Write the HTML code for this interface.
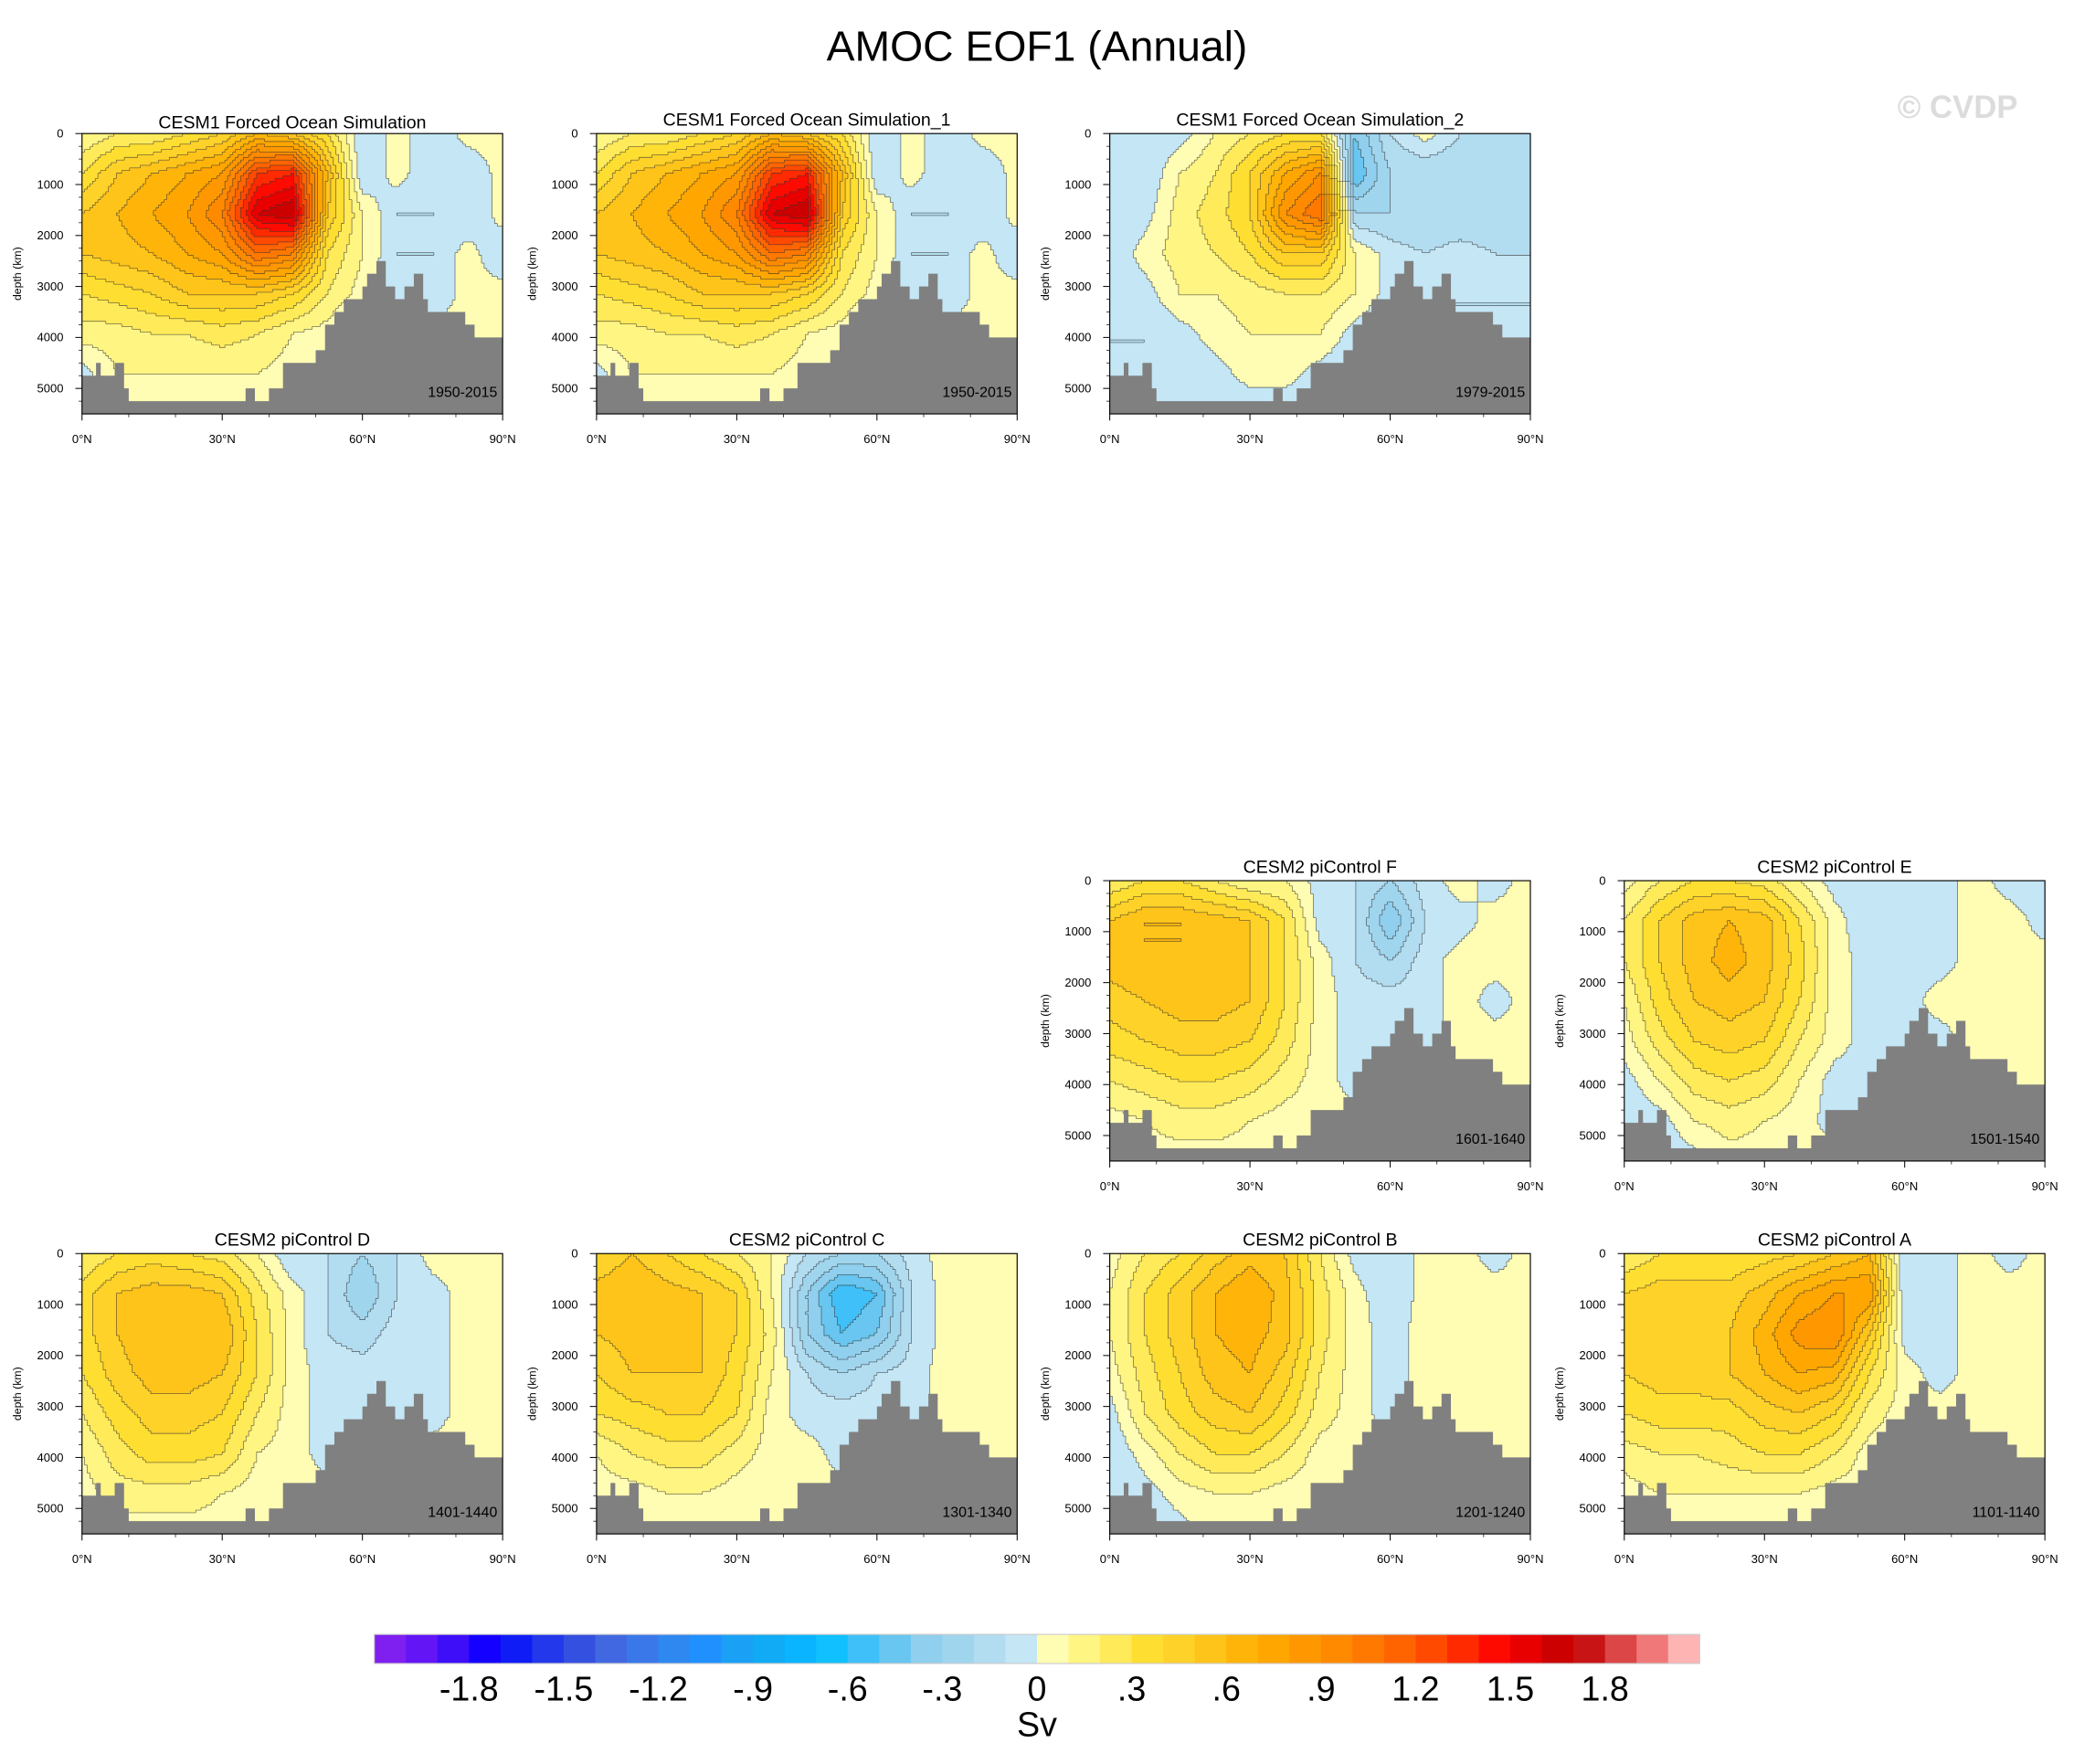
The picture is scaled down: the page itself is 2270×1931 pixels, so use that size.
<!DOCTYPE html>
<html><head><meta charset="utf-8"><style>
html,body{margin:0;padding:0;background:#fff}
svg{display:block}
text{font-family:"Liberation Sans",sans-serif}
</style></head><body>
<svg id="fig" xmlns="http://www.w3.org/2000/svg" width="2270" height="1931" viewBox="0 0 1568 1334" preserveAspectRatio="none">
<text x="784" y="46" font-size="32" text-anchor="middle">AMOC EOF1 (Annual)</text>
<text x="1480" y="89" font-size="24" font-weight="bold" fill="#dcdcdc" text-anchor="middle">© CVDP</text>
<g id="panels"></g>
<g id="cbar"></g>
</svg>
<script>
// ---- data ----
const colorLevels = ["#7f1ff0","#6315f5","#3d0ef7","#1400ff","#0f1cf5","#2238ea","#3450e0","#4168e0","#3a78ea","#2e88f0","#2090ff","#1aa0f5","#10aaf5","#0ab4ff","#10c0ff","#40c0f8","#68c6f0","#90cfed","#a0d5ee","#b2dcf0","#c4e6f5",
"#fffcb4","#fff582","#ffea5a","#ffde32","#ffd22a","#ffc41a","#ffb40a","#ffa600","#ff9800","#ff8a00","#ff7800","#ff6400","#ff4a00","#ff2a00","#ff0a00","#e80000","#cc0000","#c81414","#dc4646","#f07878","#ffb4b4"];
const cbarLabels = ["-1.8","-1.5","-1.2","-.9","-.6","-.3","0",".3",".6",".9","1.2","1.5","1.8"];
const latGrid = [0,7.5,15,22.5,30,37.5,45,52.5,60,67.5,75,82.5,90];
const depthGrid = [0,785,1570,2355,3140,3925,4710,5500];
const yTicks = [0,1000,2000,3000,4000,5000];
const xTicks = [0,30,60,90];
const bathyLat = [0,1,3,4,7,9,10,27,30,35,37,40,43,50,52,54,56,60,61,63,65,67,69,71,73,74,82,84,90];
const bathyDepth = [4750,4750,4500,4750,4500,5000,5250,5250,5250,5000,5250,5000,4500,4250,3750,3500,3250,3000,2750,2500,3000,3250,3000,2750,3250,3500,3750,4000,4000];
const cesm1 = [
[0.1,0.2,0.2,0.3,0.4,0.6,0.5,0.3,-0.1,0.05,-0.1,0.05,0.05],
[0.3,0.5,0.6,0.7,0.8,1.3,1.4,0.6,-0.1,0.05,-0.1,-0.1,0.05],
[0.5,0.6,0.7,0.8,1.0,1.6,1.7,0.5,0.1,-0.1,-0.1,-0.1,0.05],
[0.5,0.55,0.6,0.7,0.8,1.1,1.0,0.3,0.1,-0.1,-0.1,0.05,-0.1],
[0.3,0.35,0.4,0.5,0.5,0.5,0.4,0.2,0.05,-0.1,-0.1,0.05,0.05],
[0.15,0.15,0.2,0.2,0.25,0.2,0.1,0.05,-0.1,-0.1,0.05,0.05,0.05],
[-0.05,0.1,0.1,0.1,0.1,0.1,0.05,0.05,-0.1,-0.1,0.05,0.05,0.05],
[-0.05,0.05,0.05,0.05,0.05,0.05,0.05,0.05,0.05,0.05,0.05,0.05,0.05]];
const cesm1b = [
[-0.1,-0.1,-0.05,0.1,0.2,0.3,0.3,-0.4,-0.1,0.05,-0.1,-0.1,-0.1],
[-0.1,-0.1,0.1,0.2,0.4,0.7,0.9,-0.5,-0.2,-0.2,-0.2,-0.2,-0.2],
[-0.1,-0.05,0.15,0.25,0.4,0.9,1.1,-0.2,-0.2,-0.2,-0.2,-0.2,-0.2],
[-0.1,0.05,0.15,0.2,0.3,0.5,0.5,0.1,-0.05,-0.1,-0.05,-0.1,-0.1],
[-0.1,-0.05,0.1,0.1,0.15,0.2,0.2,0.1,-0.05,-0.1,-0.1,-0.1,-0.1],
[-0.1,-0.1,-0.05,0.05,0.1,0.1,0.1,-0.05,-0.1,-0.1,-0.1,-0.1,-0.1],
[-0.1,-0.1,-0.1,-0.05,0.05,0.05,-0.05,-0.1,-0.1,-0.1,-0.1,-0.1,-0.1],
[-0.1,-0.1,-0.1,-0.1,-0.1,-0.1,-0.1,-0.1,-0.1,-0.1,-0.1,-0.1,-0.1]];
const pcF = [
[0.2,0.3,0.3,0.2,0.1,0.1,-0.05,-0.1,-0.2,-0.05,0.05,-0.05,0.05],
[0.5,0.6,0.6,0.55,0.5,0.3,-0.05,-0.1,-0.4,-0.1,-0.05,0.05,0.05],
[0.55,0.6,0.6,0.6,0.5,0.3,0.05,-0.1,-0.2,-0.05,0.05,0.05,0.05],
[0.45,0.5,0.55,0.55,0.5,0.3,0.05,-0.05,-0.05,-0.05,0.05,-0.05,0.05],
[0.35,0.4,0.45,0.45,0.4,0.25,0.05,-0.05,-0.05,-0.05,0.05,0.05,0.05],
[0.2,0.25,0.3,0.3,0.25,0.15,0.05,-0.05,-0.05,0.05,0.05,0.05,0.05],
[0.05,0.1,0.15,0.15,0.1,0.05,0.05,0.05,0.05,0.05,0.05,0.05,0.05],
[-0.05,0.05,0.05,0.05,0.05,0.05,0.05,0.05,0.05,0.05,0.05,0.05,0.05]];
const pcE = [
[0.05,0.2,0.3,0.3,0.25,0.1,-0.05,-0.1,-0.1,-0.05,0.05,-0.05,-0.05],
[0.2,0.4,0.55,0.6,0.55,0.3,0.05,-0.1,-0.1,-0.05,0.05,0.05,-0.05],
[0.2,0.4,0.55,0.65,0.55,0.35,0.05,-0.05,-0.05,-0.05,0.05,0.05,0.05],
[0.1,0.35,0.5,0.55,0.5,0.3,0.05,-0.05,-0.05,0.05,0.05,0.05,0.05],
[0.05,0.25,0.4,0.45,0.4,0.2,0.05,-0.05,-0.05,-0.05,0.05,0.05,0.05],
[-0.05,0.1,0.25,0.3,0.25,0.1,-0.05,-0.05,-0.05,-0.05,0.05,0.05,0.05],
[-0.1,-0.05,0.1,0.15,0.1,0.05,-0.05,-0.05,-0.05,0.05,0.05,0.05,0.05],
[-0.1,-0.1,-0.05,0.05,0.05,0.05,0.05,0.05,0.05,0.05,0.05,0.05,0.05]];
const pcD = [
[0.2,0.3,0.35,0.3,0.25,0.1,-0.1,-0.1,-0.2,-0.1,0.05,0.05,0.05],
[0.35,0.5,0.55,0.55,0.5,0.25,0.05,-0.1,-0.3,-0.1,-0.05,0.05,0.05],
[0.35,0.5,0.6,0.55,0.6,0.3,0.05,-0.1,-0.15,-0.05,-0.05,0.05,0.05],
[0.3,0.45,0.55,0.55,0.5,0.3,0.05,-0.05,-0.05,-0.05,-0.05,0.05,0.05],
[0.2,0.35,0.45,0.45,0.4,0.2,0.05,-0.05,-0.05,-0.05,-0.05,0.05,0.05],
[0.1,0.25,0.35,0.35,0.3,0.1,0.05,-0.05,-0.05,-0.05,0.05,0.05,0.05],
[0.05,0.15,0.15,0.15,0.1,0.05,0.05,0.05,0.05,0.05,0.05,0.05,0.05],
[0.05,0.05,0.05,0.05,0.05,0.05,0.05,0.05,0.05,0.05,0.05,0.05,0.05]];
const pcC = [
[0.4,0.5,0.4,0.3,0.2,0.1,-0.1,-0.2,-0.2,-0.05,0.05,0.05,0.05],
[0.55,0.6,0.55,0.5,0.4,0.1,-0.3,-0.6,-0.5,-0.1,0.05,0.05,0.05],
[0.5,0.55,0.55,0.5,0.4,0.15,-0.3,-0.5,-0.4,-0.1,0.05,0.05,0.05],
[0.4,0.5,0.5,0.5,0.35,0.1,-0.1,-0.2,-0.1,-0.05,0.05,0.05,0.05],
[0.3,0.35,0.4,0.4,0.3,0.05,-0.05,-0.05,-0.05,-0.05,0.05,0.05,0.05],
[0.1,0.2,0.25,0.25,0.15,0.05,0.05,-0.05,-0.05,0.05,0.05,0.05,0.05],
[0.05,0.05,0.1,0.1,0.05,0.05,0.05,0.05,0.05,0.05,0.05,0.05,0.05],
[-0.05,0.05,0.05,0.05,0.05,0.05,0.05,0.05,0.05,0.05,0.05,0.05,0.05]];
const pcB = [
[0.05,0.2,0.3,0.45,0.55,0.5,0.2,-0.05,-0.1,0.05,0.05,-0.05,0.05],
[0.1,0.3,0.45,0.6,0.7,0.55,0.25,0.05,-0.1,0.05,0.05,0.05,0.05],
[0.1,0.3,0.45,0.6,0.65,0.55,0.25,0.05,-0.05,0.05,0.05,0.05,0.05],
[0.05,0.25,0.4,0.55,0.6,0.45,0.2,0.05,-0.05,0.05,0.05,0.05,0.05],
[-0.05,0.2,0.35,0.45,0.5,0.35,0.15,0.05,-0.05,0.05,0.05,0.05,0.05],
[-0.1,0.05,0.2,0.3,0.3,0.2,0.05,0.05,0.05,0.05,0.05,0.05,0.05],
[-0.1,-0.05,0.05,0.1,0.1,0.05,0.05,0.05,0.05,0.05,0.05,0.05,0.05],
[-0.1,-0.1,-0.05,0.05,0.05,0.05,0.05,0.05,0.05,0.05,0.05,0.05,0.05]];
const pcA = [
[0.2,0.3,0.3,0.3,0.35,0.4,0.5,0.6,-0.1,-0.05,0.05,-0.05,0.05],
[0.4,0.45,0.45,0.45,0.55,0.7,0.8,0.8,-0.1,-0.05,0.05,0.05,0.05],
[0.5,0.5,0.45,0.5,0.65,0.85,0.9,0.5,-0.05,-0.05,0.05,0.05,0.05],
[0.4,0.45,0.45,0.5,0.6,0.7,0.65,0.3,0.05,-0.05,0.05,0.05,0.05],
[0.3,0.35,0.35,0.35,0.45,0.5,0.4,0.15,0.05,0.05,0.05,0.05,0.05],
[0.15,0.2,0.2,0.25,0.3,0.3,0.2,0.05,0.05,0.05,0.05,0.05,0.05],
[0.05,0.1,0.1,0.1,0.1,0.1,0.05,0.05,0.05,0.05,0.05,0.05,0.05],
[-0.05,0.05,0.05,0.05,0.05,0.05,0.05,0.05,0.05,0.05,0.05,0.05,0.05]];
const panelTitles = ["CESM1 Forced Ocean Simulation","CESM1 Forced Ocean Simulation_1","CESM1 Forced Ocean Simulation_2","CESM2 piControl F","CESM2 piControl E","CESM2 piControl D","CESM2 piControl C","CESM2 piControl B","CESM2 piControl A"];
const panelYears = ["1950-2015","1950-2015","1979-2015","1601-1640","1501-1540","1401-1440","1301-1340","1201-1240","1101-1140"];
const panelFields = [cesm1,cesm1,cesm1b,pcF,pcE,pcD,pcC,pcB,pcA];

// ---- layout ----
const NS="http://www.w3.org/2000/svg";
const colX=[62,451,839,1228], rowY=[101,666,948];
const slots=[[0,0],[1,0],[2,0],[2,1],[3,1],[0,2],[1,2],[2,2],[3,2]];
const PW=318, PH=212;
function mk(tag,attrs,parent){const e=document.createElementNS(NS,tag);for(const k in attrs)e.setAttribute(k,attrs[k]);parent.appendChild(e);return e;}
function levelFor(v){let i=Math.floor(v/0.1)+21;if(i<0)i=0;if(i>41)i=41;return i;}
function interp(f,lat,dep){
  let ci=lat/7.5; let c0=Math.min(Math.floor(ci),11); let tc=ci-c0;
  let r0=0; while(r0<depthGrid.length-2 && dep>depthGrid[r0+1]) r0++;
  let tr=(dep-depthGrid[r0])/(depthGrid[r0+1]-depthGrid[r0]);
  const a=f[r0][c0],b=f[r0][c0+1],c=f[r0+1][c0],d=f[r0+1][c0+1];
  return (a*(1-tc)+b*tc)*(1-tr)+(c*(1-tc)+d*tc)*tr;
}
const panelsG=document.getElementById('panels');
panelFields.forEach((field,p)=>{
  const x0=colX[slots[p][0]], y0=rowY[slots[p][1]];
  const xs=lat=>x0+lat/90*PW, ys=d=>y0+d/5500*PH;
  const g=mk('g',{},panelsG);
  
  
  const field_g=mk('g',{'shape-rendering':'crispEdges'},g);
  
  
  const step=2;
  const nx=Math.ceil(PW/step), ny=Math.ceil(PH/step);
  const L=[];
  for(let j=0;j<ny;j++){L.push([]);for(let i=0;i<nx;i++){const lat=(i*step+step/2)/PW*90, dep=(j*step+step/2)/PH*5500;L[j].push(levelFor(interp(field,lat,dep)));}}
  for(let j=0;j<ny;j++){
    let runX=0;
    for(let i=1;i<=nx;i++){
      if(i===nx||L[j][i]!==L[j][runX]){
        const r=mk('rect',{x:x0+runX*step,y:y0+j*step,width:Math.min(i*step,PW)-runX*step,height:Math.min(step,PH-j*step),fill:colorLevels[L[j][runX]]},field_g);
        
        
        runX=i;
      }
    }
  }
  // contour lines along level boundaries
  let d='';
  for(let j=0;j<ny;j++)for(let i=0;i<nx;i++){
    if(i+1<nx&&L[j][i]!==L[j][i+1]) d+=`M${x0+(i+1)*step} ${y0+j*step}v${step}`;
    if(j+1<ny&&L[j][i]!==L[j+1][i]) d+=`M${x0+i*step} ${y0+(j+1)*step}h${step}`;
  }
  const cl=mk('path',{d:d,stroke:'#333','stroke-width':0.45,fill:'none','stroke-opacity':0.8},g);
  
  
  // bathymetry
  let pts=[];
  pts.push(xs(0)+','+ys(5500));
  for(let i=0;i<bathyLat.length-1;i++){pts.push(xs(bathyLat[i])+','+ys(bathyDepth[i]));pts.push(xs(bathyLat[i+1])+','+ys(bathyDepth[i]));}
  pts.push(xs(90)+','+ys(5500));
  const bp=mk('polygon',{points:pts.join(' '),fill:'#808080'},g);
  
  
  const fr=mk('rect',{x:x0,y:y0,width:PW,height:PH,fill:'none',stroke:'#000','stroke-width':0.8},g);
  
  
  // titles
  const t=mk('text',{x:x0+PW/2,y:y0-(p===0?4:6),'font-size':13.5,'text-anchor':'middle'},g);t.textContent=panelTitles[p];
  
  
  const yr=mk('text',{x:x0+PW-4,y:y0+PH-13,'font-size':11,'text-anchor':'end'},g);yr.textContent=panelYears[p];
  
  
  // y axis
  yTicks.forEach(v=>{
    mk('line',{x1:x0-5,x2:x0,y1:ys(v),y2:ys(v),stroke:'#000','stroke-width':0.7},g);
    const l=mk('text',{x:x0-14,y:ys(v)+3,'font-size':9,'text-anchor':'end'},g);l.textContent=v;
    
    
  });
  for(let v=250;v<5500;v+=250){ if(v%1000) mk('line',{x1:x0-2.5,x2:x0,y1:ys(v),y2:ys(v),stroke:'#000','stroke-width':0.5},g);}
  const yl=mk('text',{x:0,y:0,'font-size':8.5,'text-anchor':'middle',transform:`translate(${x0-46},${y0+PH/2}) rotate(-90)`},g);yl.textContent='depth (km)';
  
  
  // x axis
  xTicks.forEach(v=>{
    mk('line',{x1:xs(v),x2:xs(v),y1:y0+PH,y2:y0+PH+5,stroke:'#000','stroke-width':0.7},g);
    const l=mk('text',{x:xs(v),y:y0+PH+22,'font-size':9,'text-anchor':'middle'},g);l.textContent=v+'°N';
    
    
  });
  for(let v=10;v<90;v+=10){ if(v%30) mk('line',{x1:xs(v),x2:xs(v),y1:y0+PH,y2:y0+PH+2.5,stroke:'#000','stroke-width':0.5},g);}
});
// colorbar
const cb=document.getElementById('cbar');


const cbX0=283, cbX1=1285, cbY=1236, cbH=22;
const boxW=(cbX1-cbX0)/colorLevels.length;
colorLevels.forEach((c,i)=>{const r=mk('rect',{x:cbX0+i*boxW,y:cbY,width:boxW+0.3,height:cbH,fill:c},cb);
  
  });
mk('rect',{x:cbX0,y:cbY,width:cbX1-cbX0,height:cbH,fill:'none',stroke:'#ccc','stroke-width':0.8},cb);
cbarLabels.forEach((s,k)=>{
  const idx=3+3*k;
  const l=mk('text',{x:cbX0+idx*boxW,y:1286,'font-size':26,'text-anchor':'middle'},cb);l.textContent=s;
  
  
});
const sv=mk('text',{x:784,y:1313,'font-size':26,'text-anchor':'middle'},cb);sv.textContent='Sv';


</script>
</body></html>
